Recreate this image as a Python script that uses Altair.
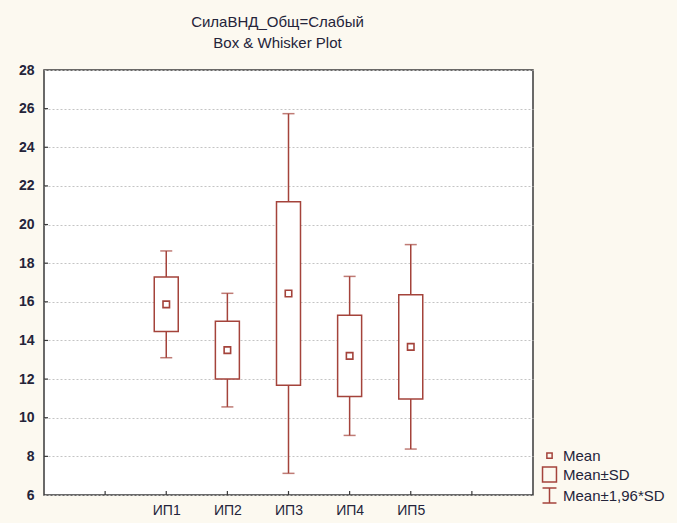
import altair as alt
import pandas as pd

# Group means and standard deviations
groups = ["ИП1", "ИП2", "ИП3", "ИП4", "ИП5"]
means = [15.87, 13.50, 16.43, 13.20, 13.67]
sds = [1.41, 1.50, 4.75, 2.10, 2.70]

# Axis slots: an empty slot on each side of the groups
x_slots = [""] + groups + [" "]
y_values = [6, 8, 10, 12, 14, 16, 18, 20, 22, 24, 26, 28]
y_inner_ticks = [8, 10, 12, 14, 16, 18, 20, 22, 24, 26]

legend_labels = ["Mean", "Mean±SD", "Mean±1,96*SD"]
legend_paths = [
    "M-0.35,-0.35H0.35V0.35H-0.35Z",
    "M-0.93,-1H0.93V1H-0.93Z",
    "M-0.93,-1H0.93M0,-1V1M-0.93,1H0.93",
]

RED = "#a4433b"
FRAME = "#3a3a3a"
TEXT = "#24243a"
CREAM = "#fcf9f0"
FONT = "Liberation Sans"

W, H = 489, 425

df = pd.DataFrame({"group": groups, "mean": means, "sd": sds})
df["kind"] = "Mean"

x_scale = alt.Scale(type="point", domain=x_slots, padding=1)
y_scale = alt.Scale(domain=[6, 28], nice=False, zero=False)

x_axis = alt.Axis(
    title=None, ticks=False, domain=False, grid=False, labelAngle=0,
    labelFont=FONT, labelFontSize=14, labelColor=TEXT, labelPadding=8,
    labelOverlap=False,
)
y_axis = alt.Axis(
    title=None, values=y_values, ticks=False, domain=False,
    grid=True, gridDash=[2, 2], gridColor="#c4c4c4", gridWidth=1,
    labelFont=FONT, labelFontSize=14, labelFontWeight="bold",
    labelColor=TEXT, labelPadding=10, labelOverlap=False,
)


def yq(field):
    return alt.Y(field, type="quantitative", scale=y_scale, axis=y_axis)


def xg(field):
    return alt.X(field, type="nominal", scale=x_scale, axis=x_axis, sort=x_slots)


base = alt.Chart(df).transform_calculate(
    lo_sd="datum.mean - datum.sd",
    hi_sd="datum.mean + datum.sd",
    lo96="datum.mean - 1.96 * datum.sd",
    hi96="datum.mean + 1.96 * datum.sd",
)

whiskers = base.mark_rule(color=RED, strokeWidth=1.5).encode(
    x=xg("group"), y=yq("lo96"), y2="hi96:Q",
)
cap_lo = base.mark_tick(color=RED, size=12, thickness=1.5).encode(
    x=xg("group"), y=yq("lo96")
)
cap_hi = base.mark_tick(color=RED, size=12, thickness=1.5).encode(
    x=xg("group"), y=yq("hi96")
)
boxes = base.mark_bar(size=24, fill="white", stroke=RED, strokeWidth=1.5).encode(
    x=xg("group"), y=yq("lo_sd"), y2="hi_sd:Q",
)
mean_pts = base.mark_point(filled=False, color=RED, strokeWidth=1.6, size=345, opacity=1).encode(
    x=xg("group"),
    y=yq("mean"),
    shape=alt.Shape(
        "kind:N",
        scale=alt.Scale(domain=legend_labels, range=legend_paths),
        legend=alt.Legend(
            title=None, orient="none", legendX=497, legendY=377, padding=0,
            symbolSize=225, symbolStrokeWidth=1.5, symbolStrokeColor=RED,
            symbolFillColor="transparent", symbolOpacity=1,
            labelFont=FONT, labelFontSize=15, labelColor=TEXT,
            labelOffset=5, rowPadding=0,
        ),
    ),
)

# Short inward tick marks along the frame
x_ticks = alt.Chart(pd.DataFrame({"slot": x_slots})).mark_rule(
    color=FRAME, strokeWidth=1.2
).encode(
    x=xg("slot"),
    y=alt.value(H - 4),
    y2=alt.value(H),
)
y_ticks = alt.Chart(pd.DataFrame({"v": y_inner_ticks})).mark_rule(
    color=FRAME, strokeWidth=1.2
).encode(
    y=yq("v"),
    x=alt.value(0),
    x2=alt.value(4),
)

chart = alt.layer(
    whiskers, cap_lo, cap_hi, boxes, mean_pts, x_ticks, y_ticks
).properties(
    width=W,
    height=H,
    autosize="none",
    padding={"left": 44, "top": 70, "right": 144, "bottom": 28},
    background=CREAM,
    title=alt.TitleParams(
        text=["СилаВНД_Общ=Слабый", "Box & Whisker Plot"],
        font=FONT, fontSize=15, fontWeight="normal", color=TEXT,
        anchor="middle", dx=-11, offset=12, lineHeight=21.5,
    ),
).configure_view(
    stroke=FRAME, strokeWidth=1.5, fill="white"
)

chart.save("out.html", embed_options={"renderer": "svg", "actions": False})
